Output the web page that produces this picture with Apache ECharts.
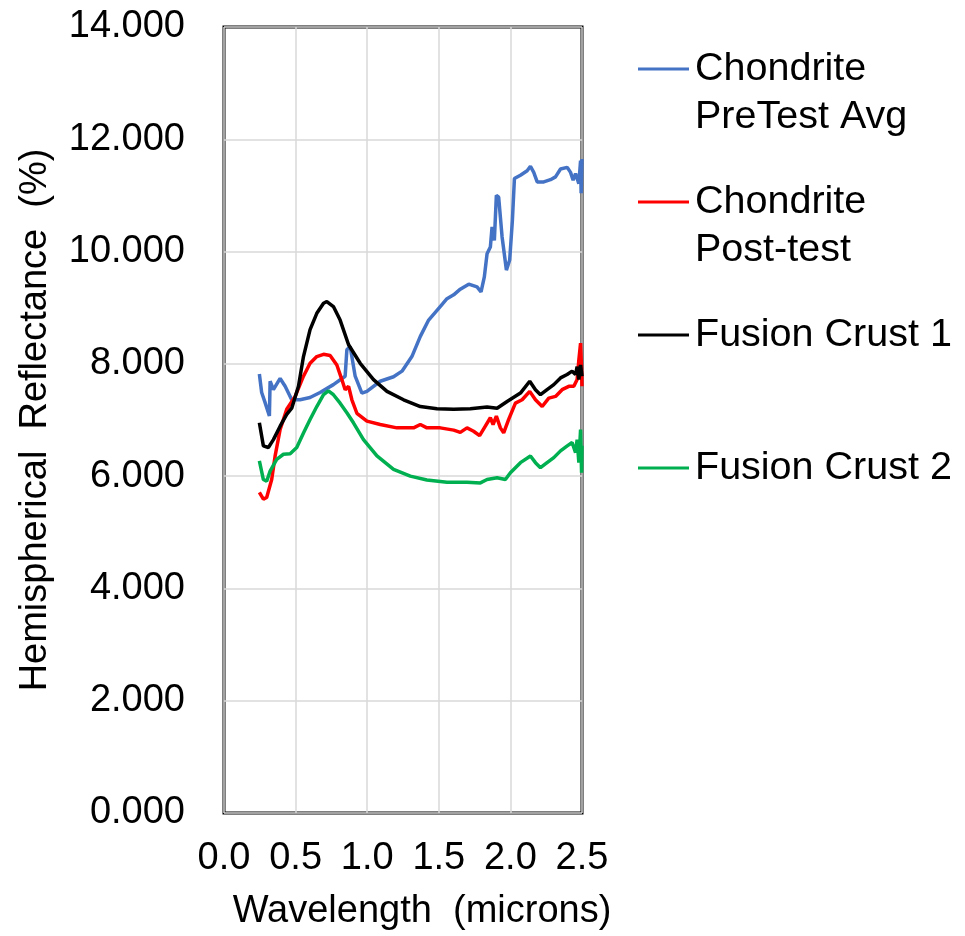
<!DOCTYPE html>
<html>
<head>
<meta charset="utf-8">
<script src="https://cdn.jsdelivr.net/npm/echarts@6/dist/echarts.min.js"></script>
<style>
  html, body { margin: 0; padding: 0; background: #fff; }
  #chart { width: 965px; height: 936px; }
</style>
</head>
<body>
<div id="chart"></div>
<script>
// Reflectance spectra: [wavelength (microns), reflectance (%)]
const preTestAvg = [[0.247,7.82],[0.263,7.49],[0.287,7.31],[0.317,7.07],[0.322,7.69],[0.345,7.54],[0.392,7.74],[0.427,7.60],[0.473,7.36],[0.531,7.36],[0.601,7.40],[0.671,7.49],[0.764,7.63],[0.846,7.78],[0.858,8.25],[0.881,8.31],[0.916,7.78],[0.963,7.48],[0.998,7.51],[1.091,7.69],[1.184,7.77],[1.243,7.87],[1.312,8.13],[1.371,8.49],[1.429,8.78],[1.510,9.02],[1.557,9.16],[1.604,9.23],[1.650,9.33],[1.709,9.42],[1.767,9.37],[1.795,9.28],[1.818,9.55],[1.837,9.96],[1.860,10.08],[1.872,10.44],[1.888,10.20],[1.902,11.00],[1.918,10.97],[1.942,10.26],[1.972,9.67],[1.995,9.85],[2.014,10.56],[2.028,11.30],[2.070,11.36],[2.117,11.44],[2.140,11.52],[2.163,11.41],[2.187,11.24],[2.233,11.24],[2.280,11.28],[2.315,11.33],[2.350,11.47],[2.397,11.50],[2.420,11.41],[2.438,11.27],[2.455,11.39],[2.478,11.21],[2.490,11.62],[2.494,11.04],[2.500,11.65]];

const postTest = [[0.247,5.71],[0.275,5.59],[0.298,5.62],[0.333,5.94],[0.357,6.36],[0.392,6.83],[0.438,7.19],[0.497,7.42],[0.555,7.78],[0.601,8.01],[0.648,8.13],[0.695,8.17],[0.741,8.15],[0.788,7.98],[0.823,7.72],[0.846,7.54],[0.870,7.60],[0.893,7.36],[0.928,7.12],[0.998,6.98],[1.091,6.92],[1.207,6.86],[1.324,6.86],[1.371,6.92],[1.417,6.86],[1.510,6.86],[1.604,6.82],[1.650,6.78],[1.697,6.86],[1.743,6.80],[1.785,6.72],[1.825,6.89],[1.860,7.04],[1.879,6.92],[1.902,7.07],[1.930,6.86],[1.953,6.77],[1.988,7.01],[2.035,7.30],[2.082,7.36],[2.135,7.51],[2.175,7.36],[2.222,7.24],[2.268,7.39],[2.315,7.42],[2.361,7.54],[2.408,7.60],[2.443,7.60],[2.466,7.72],[2.478,8.07],[2.490,8.37],[2.497,7.90],[2.500,7.60]];

const fusionCrust1 = [[0.247,6.95],[0.275,6.54],[0.310,6.51],[0.345,6.65],[0.392,6.89],[0.438,7.10],[0.473,7.21],[0.520,7.60],[0.555,8.13],[0.601,8.61],[0.648,8.90],[0.695,9.08],[0.718,9.11],[0.764,9.02],[0.811,8.78],[0.870,8.34],[0.951,8.01],[1.044,7.72],[1.138,7.51],[1.254,7.36],[1.371,7.24],[1.487,7.20],[1.604,7.19],[1.720,7.20],[1.837,7.23],[1.907,7.21],[1.977,7.33],[2.070,7.48],[2.135,7.69],[2.175,7.54],[2.210,7.45],[2.256,7.54],[2.303,7.63],[2.350,7.75],[2.396,7.81],[2.431,7.87],[2.455,7.81],[2.466,7.95],[2.478,7.72],[2.490,7.98],[2.500,7.78]];

const fusionCrust2 = [[0.247,6.27],[0.275,5.94],[0.298,5.91],[0.322,6.09],[0.368,6.30],[0.415,6.39],[0.462,6.40],[0.508,6.51],[0.555,6.77],[0.601,7.01],[0.648,7.24],[0.695,7.45],[0.729,7.52],[0.764,7.45],[0.811,7.30],[0.858,7.13],[0.904,6.95],[0.974,6.65],[1.068,6.36],[1.184,6.12],[1.301,6.00],[1.417,5.93],[1.557,5.89],[1.697,5.89],[1.790,5.88],[1.837,5.94],[1.907,5.97],[1.965,5.94],[2.000,6.06],[2.070,6.24],[2.140,6.36],[2.175,6.24],[2.210,6.15],[2.256,6.24],[2.303,6.33],[2.350,6.45],[2.397,6.54],[2.431,6.60],[2.455,6.42],[2.466,6.65],[2.478,6.24],[2.490,6.83],[2.497,6.06],[2.500,6.54]];

const seriesNames = ['Chondrite\nPreTest Avg', 'Chondrite\nPost-test', 'Fusion Crust 1', 'Fusion Crust 2'];
const seriesColors = ['#4472C4', '#FF0000', '#000000', '#00B050'];
const seriesData = [preTestAvg, postTest, fusionCrust1, fusionCrust2];

const FONT = '"Liberation Sans", Arial, sans-serif';

// Legend drawn as line swatches with wrapped labels beside them
const legendGraphics = [];
seriesNames.forEach((name, i) => {
  const top = 45 + i * 133;
  legendGraphics.push({
    type: 'line',
    shape: { x1: 638, y1: top + 24, x2: 689, y2: top + 24 },
    style: { stroke: seriesColors[i], lineWidth: 3 }
  });
  legendGraphics.push({
    type: 'text',
    x: 695, y: top,
    style: {
      text: name, fill: '#000', font: '39.5px ' + FONT,
      lineHeight: 48, verticalAlign: 'top', align: 'left'
    }
  });
});

const chart = echarts.init(document.getElementById('chart'), null, { renderer: 'canvas' });
chart.setOption({
  animation: false,
  backgroundColor: '#fff',
  textStyle: { fontFamily: FONT },
  grid: {
    left: 224, right: 383, top: 27, bottom: 122,
    show: true, borderColor: '#000', borderWidth: 3, backgroundColor: 'transparent'
  },
  xAxis: {
    type: 'value', min: 0, max: 2.5, interval: 0.5,
    name: 'Wavelength  (microns)', nameLocation: 'middle', nameGap: 80,
    nameTextStyle: { fontSize: 38, color: '#000', fontFamily: FONT, padding: [0, 0, 0, 38] },
    axisLine: { show: false }, axisTick: { show: false },
    axisLabel: { fontSize: 38, color: '#000', margin: 27, formatter: v => v.toFixed(1) },
    splitLine: { show: true, lineStyle: { color: '#d9d9d9', width: 1.5 } }
  },
  yAxis: {
    type: 'value', min: 0, max: 14, interval: 2,
    name: 'Hemispherical  Reflectance  (%)', nameLocation: 'middle', nameGap: 169,
    nameTextStyle: { fontSize: 38, color: '#000', fontFamily: FONT },
    axisLine: { show: false }, axisTick: { show: false },
    axisLabel: { fontSize: 38, color: '#000', margin: 39, formatter: v => v.toFixed(3) },
    splitLine: { show: true, lineStyle: { color: '#d9d9d9', width: 1.5 } }
  },
  series: seriesData.map((d, i) => ({
    name: seriesNames[i],
    type: 'line',
    data: d,
    showSymbol: false,
    smooth: false,
    lineStyle: { color: seriesColors[i], width: 3.5 },
    itemStyle: { color: seriesColors[i] },
    z: 2 + i
  })),
  graphic: legendGraphics
});
</script>
</body>
</html>
